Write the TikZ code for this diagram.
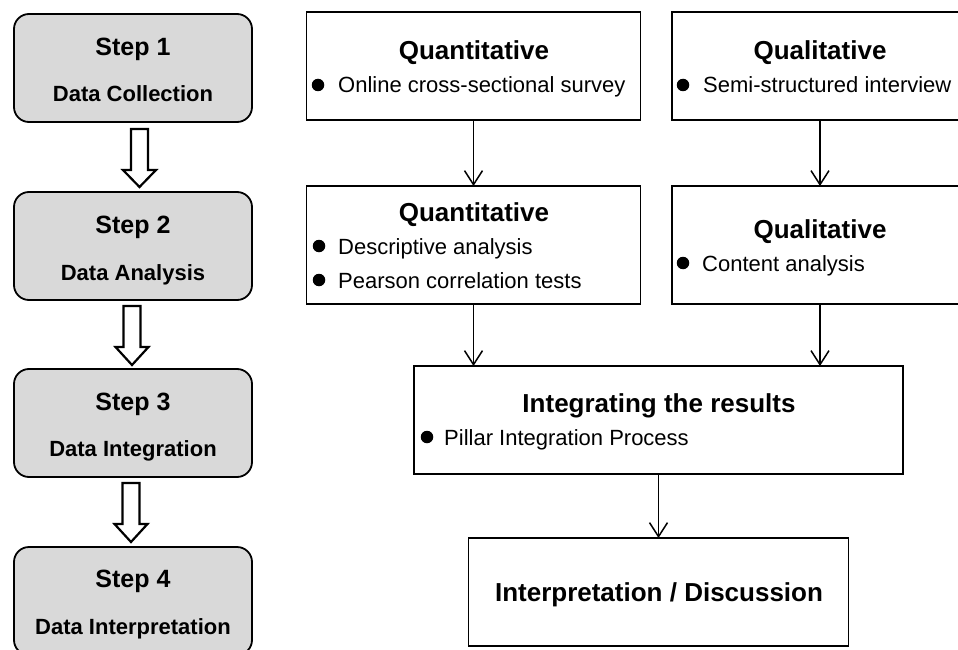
\documentclass[tikz,border=0pt]{standalone}
\usepackage{fontspec}
\setmainfont{Liberation Sans}
\usetikzlibrary{arrows.meta,calc}
\tikzset{
  stepbox/.style={draw=black, line width=1.8pt, fill=black!15, rounded corners=15pt,
    minimum width=238pt, minimum height=108pt, inner sep=0pt, outer sep=0pt},
  mbox/.style={draw=black, line width=1.8pt, fill=white, inner sep=0pt, outer sep=0pt},
  steptxt/.style={anchor=base, inner sep=0pt, font=\fontsize{25}{30}\selectfont\bfseries},
  subtxt/.style={anchor=base, inner sep=0pt, font=\fontsize{22}{26}\selectfont\bfseries},
  ttl/.style={anchor=base, inner sep=0pt, font=\fontsize{26}{31}\selectfont\bfseries},
  btxt/.style={anchor=base west, inner sep=0pt, font=\fontsize{22}{26}\selectfont},
  dot/.style={circle, fill=black, minimum size=12.5pt, inner sep=0pt},
  conn/.style={line width=1.5pt, -{Straight Barb[length=14pt,width=18pt,line width=1.5pt]}},
  hollow/.style={draw=black, line width=2.2pt, fill=white, line join=miter}
}
\begin{document}
\begin{tikzpicture}[x=1pt, y=-1pt]
\useasboundingbox (0,0) rectangle (958,650);
\clip (0,0) rectangle (958,650);

% left column step boxes
\node[stepbox] (s1) at (133,68) {};
\node[stepbox] (s2) at (133,246) {};
\node[stepbox] (s3) at (133,423) {};
\node[stepbox] (s4) at (133,601) {};
\node[steptxt] (s1a) at (133,56) {Step 1};
\node[subtxt]  (s1b) at (133,102) {Data Collection};
\node[steptxt] (s2a) at (133,233) {Step 2};
\node[subtxt]  (s2b) at (133,280) {Data Analysis};
\node[steptxt] (s3a) at (133,410) {Step 3};
\node[subtxt]  (s3b) at (133,456) {Data Integration};
\node[steptxt] (s4a) at (133,587) {Step 4};
\node[subtxt]  (s4b) at (133,634) {Data Interpretation};

% hollow arrows between steps
\draw[hollow] (131,129) -- (148,129) -- (148,170) -- (156,170) -- (139.5,187)
  -- (123,170) -- (131,170) -- cycle;
\draw[hollow] (123.5,306) -- (140.5,306) -- (140.5,347) -- (148.5,347) -- (132,365)
  -- (115.5,347) -- (123.5,347) -- cycle;
\draw[hollow] (122.5,483) -- (139.5,483) -- (139.5,524) -- (147.5,524) -- (131,542)
  -- (114.5,524) -- (122.5,524) -- cycle;

% right boxes
\node[mbox, minimum width=334pt, minimum height=108pt] (q1) at (473.5,66) {};
\node[mbox, minimum width=296pt, minimum height=108pt] (l1) at (820,66) {};
\node[mbox, minimum width=334pt, minimum height=118pt] (q2) at (473.5,245) {};
\node[mbox, minimum width=296pt, minimum height=118pt] (l2) at (820,245) {};
\node[mbox, minimum width=489pt, minimum height=108pt] (ig) at (658.5,420) {};
\node[mbox, minimum width=380pt, minimum height=108pt] (ip) at (658.5,592) {};

% texts in Quant 1
\node[ttl] (q1t) at (474,59.5) {Quantitative};
\node[dot] (q1d) at (318,85) {};
\node[btxt] (q1b) at (338,93) {Online cross-sectional survey};
% Qual 1
\node[ttl] (l1t) at (820,59.5) {Qualitative};
\node[dot] (l1d) at (683,85) {};
\node[btxt] (l1b) at (703,93) {Semi-structured interview};
% Quant 2
\node[ttl] (q2t) at (474,221.5) {Quantitative};
\node[dot] (q2d1) at (319,246) {};
\node[btxt] (q2b1) at (338,254) {Descriptive analysis};
\node[dot] (q2d2) at (319,280) {};
\node[btxt] (q2b2) at (338,288) {Pearson correlation tests};
% Qual 2
\node[ttl] (l2t) at (820,238.5) {Qualitative};
\node[dot] (l2d) at (683,263) {};
\node[btxt] (l2b) at (702,271) {Content analysis};
% Integrating
\node[ttl] (igt) at (659,412.5) {Integrating the results};
\node[dot] (igd) at (427,437) {};
\node[btxt] (igb) at (444,445) {Pillar Integration Process};
% Interpretation
\node[ttl] (ipt) at (659,601.5) {Interpretation / Discussion};

% connectors
\draw[conn] (q1.south) -- (q2.north);
\draw[conn] (l1.south) -- (l2.north);
\draw[conn] (q2.south) -- (q2.south |- ig.north);
\draw[conn] (l2.south) -- (l2.south |- ig.north);
\draw[conn] (ig.south) -- (ip.north);
\end{tikzpicture}
\end{document}
